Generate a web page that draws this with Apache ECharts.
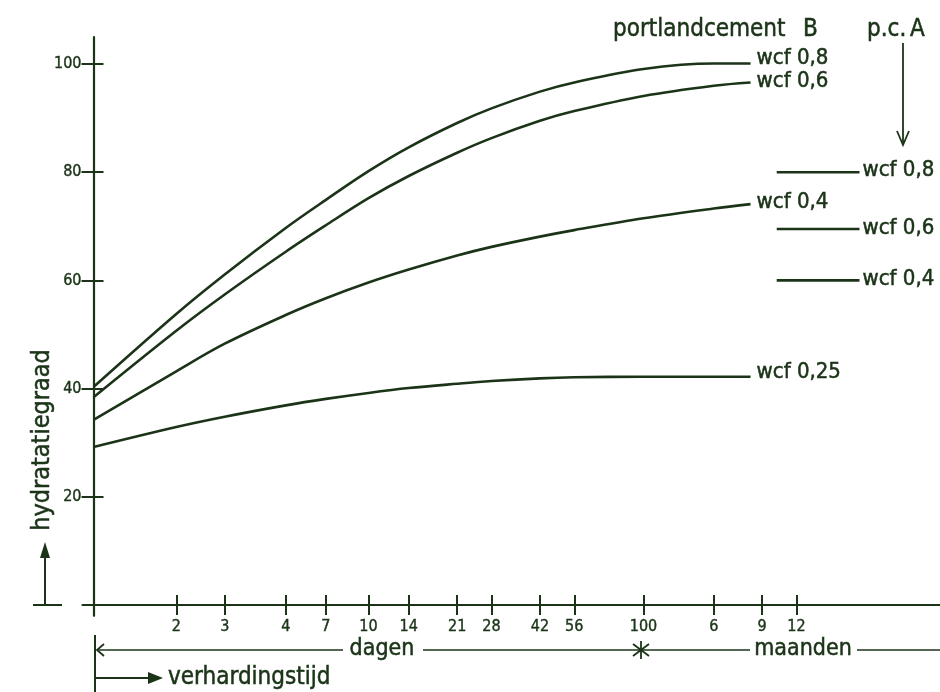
<!DOCTYPE html>
<html><head><meta charset="utf-8">
<script src="https://cdn.jsdelivr.net/npm/echarts@6/dist/echarts.min.js"></script>
<style>html,body{margin:0;padding:0;background:#fff}#c{width:940px;height:692px}</style>
</head><body><div id="c"></div>
<script>
// ---- data ----
const tickDays   = [2, 3, 5, 7, 10, 14, 21, 28, 42, 56, 100, 180, 270, 360];
const tickLabels = ['2','3','4','7','10','14','21','28','42','56','100','6','9','12'];
const yTicks     = [20, 40, 60, 80, 100];
const days  = [1, 2, 3, 5, 7, 10, 14, 21, 28, 42, 56, 100, 180, 245];
const b08   = [40.3, 53.8, 61.1, 69.7, 74.9, 80.2, 84.6, 89.1, 91.8, 94.9, 96.6, 99.1, 100.1, 100.1];
const b06   = [38.4, 50.7, 57.4, 65.3, 70.2, 75.2, 79.3, 83.6, 86.3, 89.5, 91.3, 94.1, 96.0, 96.6];
const b04   = [34.2, 43.2, 48.3, 53.6, 56.7, 59.6, 62.0, 64.6, 66.2, 68.1, 69.3, 71.5, 73.3, 74.1];
const b025  = [29.2, 32.9, 34.8, 36.9, 38.1, 39.2, 40.1, 40.9, 41.4, 41.9, 42.1, 42.2, 42.2, 42.2];
const bNames = ['wcf 0,8', 'wcf 0,6', 'wcf 0,4', 'wcf 0,25'];
const aDays = [305, 610];
const a08 = [80, 80];
const a06 = [69.5, 69.5];
const a04 = [60, 60];
const aNames = ['wcf 0,8', 'wcf 0,6', 'wcf 0,4'];

// ---- styling ----
const INK = '#1b3418';
const FONT = '"DejaVu Sans Condensed","Liberation Sans Narrow","DejaVu Sans",sans-serif';
const lg = Math.log10;
const tickPos = tickDays.map(lg);
function tickFmt(v) {
  for (let i = 0; i < tickPos.length; i++) if (Math.abs(tickPos[i] - v) < 1e-6) return tickLabels[i];
  return '';
}
function pts(xs, ys) { return xs.map((d, i) => [lg(d), ys[i]]); }
function lineSeries(name, xs, ys, label, dist, offY) {
  return {
    type: 'line', name: name, data: pts(xs, ys), smooth: 0.35, symbol: 'none',
    xAxisIndex: 0, yAxisIndex: 0, silent: true,
    lineStyle: { color: INK, width: 2.6 },
    endLabel: { show: true, formatter: () => label, distance: dist, offset: [0, offY],
      color: INK, fontSize: 22, fontFamily: FONT, textBorderColor: INK, textBorderWidth: 0.5 },
    emphasis: { disabled: true }
  };
}
const tickStyle = { color: INK, width: 2 };
function txt(x, y, text, size, align, extra) {
  return Object.assign({ type: 'text', x: x, y: y,
    style: { text: text, fill: INK, fontSize: size, fontFamily: FONT, align: align, verticalAlign: 'middle',
      stroke: INK, lineWidth: 0.5 } }, extra || {});
}
function seg(x1, y1, x2, y2, w) {
  return { type: 'line', shape: { x1: x1, y1: y1, x2: x2, y2: y2 }, style: { stroke: INK, lineWidth: w || 1.8 } };
}

const chart = echarts.init(document.getElementById('c'), null, { renderer: 'canvas' });
const option = {
  animation: false,
  backgroundColor: '#ffffff',
  grid: { left: 82.5, right: 0, top: 37, bottom: 76.2, containLabel: false, outerBoundsMode: 'none' },
  xAxis: [
    { type: 'value', min: -0.04, max: 3.078, position: 'bottom',
      axisLine: { onZero: true, onZeroAxisIndex: 0, lineStyle: { color: INK, width: 2.2 } },
      axisTick: { customValues: tickPos, length: 10, lineStyle: tickStyle },
      axisLabel: { customValues: tickPos, formatter: tickFmt, margin: 3, color: INK, fontSize: 16, fontFamily: FONT,
        textBorderColor: INK, textBorderWidth: 0.4 },
      splitLine: { show: false } },
    { type: 'value', min: -0.04, max: 3.078, position: 'top',
      axisLine: { show: false, onZero: true, onZeroAxisIndex: 0 },
      axisTick: { customValues: tickPos, length: 10, lineStyle: tickStyle },
      axisLabel: { show: false }, splitLine: { show: false } }
  ],
  yAxis: [
    { type: 'value', min: -2, max: 105, position: 'left',
      axisLine: { onZero: true, onZeroAxisIndex: 0, lineStyle: { color: INK, width: 2.2 } },
      axisTick: { customValues: yTicks, length: 12, lineStyle: tickStyle },
      axisLabel: { customValues: yTicks, margin: 1, color: INK, fontSize: 16, fontFamily: FONT,
        textBorderColor: INK, textBorderWidth: 0.4 },
      splitLine: { show: false } },
    { type: 'value', min: -2, max: 105, position: 'right',
      axisLine: { show: false, onZero: true, onZeroAxisIndex: 0 },
      axisTick: { customValues: yTicks, length: 10, lineStyle: tickStyle },
      axisLabel: { show: false }, splitLine: { show: false } }
  ],
  series: [
    lineSeries('B 0,8', days, b08, bNames[0], 6, -5),
    lineSeries('B 0,6', days, b06, bNames[1], 6, -1),
    lineSeries('B 0,4', days, b04, bNames[2], 6, -2),
    lineSeries('B 0,25', days, b025, bNames[3], 6, -4),
    lineSeries('A 0,8', aDays, a08, aNames[0], 3, -2),
    lineSeries('A 0,6', aDays, a06, aNames[1], 3, -1),
    lineSeries('A 0,4', aDays, a04, aNames[2], 3, -1)
  ],
  graphic: [
    // y-axis title with arrow
    txt(42, 440, 'hydratatiegraad', 25, 'center', { rotation: Math.PI / 2 }),
    seg(45, 605, 45, 556, 2),
    { type: 'polygon', shape: { points: [[45, 542], [40, 558], [50, 558]] }, style: { fill: INK } },
    seg(33, 605, 62, 605, 2),
    // dimension line dagen / maanden
    seg(95, 635, 95, 692, 2),
    { type: 'polyline', shape: { points: [[104, 644], [97, 650], [104, 656]] }, style: { stroke: INK, lineWidth: 1.8, fill: null } },
    seg(97, 650, 343, 650, 1.6),
    txt(382, 649, 'dagen', 23, 'center'),
    seg(423, 650, 750, 650, 1.6),
    seg(641, 641, 641, 659),
    seg(633, 644, 649, 656),
    seg(633, 656, 649, 644),
    txt(803, 649, 'maanden', 23, 'center'),
    seg(857, 650, 940, 650, 1.6),
    // verhardingstijd arrow
    seg(95, 678, 150, 678),
    { type: 'polygon', shape: { points: [[148, 672], [163, 678], [148, 684]] }, style: { fill: INK } },
    txt(168, 678, 'verhardingstijd', 24, 'left'),
    // top headings
    txt(613, 30, 'portlandcement', 24, 'left'),
    txt(803, 30, 'B', 24, 'left'),
    txt(867, 30, 'p.c.', 24, 'left'),
    txt(910, 30, 'A', 24, 'left'),
    seg(903, 43, 903, 144),
    { type: 'polyline', shape: { points: [[897, 131], [903, 145], [909, 131]] }, style: { stroke: INK, lineWidth: 1.8, fill: null } }
  ]
};
chart.setOption(option);
</script>
</body></html>
